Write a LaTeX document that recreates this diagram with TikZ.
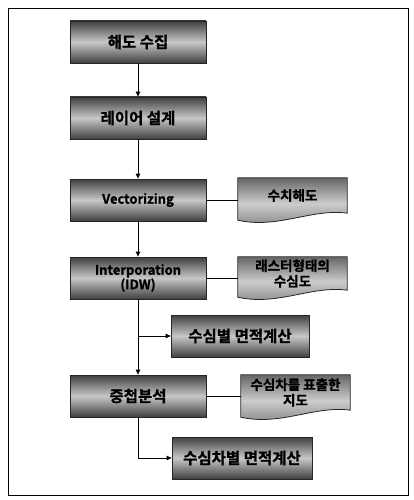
\documentclass[tikz,border=0pt]{standalone}
\usepackage{fontspec}
\setmainfont{Noto Sans CJK KR}[BoldFont={Noto Sans CJK KR Bold}]
\newfontfamily\kr{Noto Sans CJK KR Bold}[FakeBold=1.2]
\usetikzlibrary{arrows.meta,calc,shadings}
\begin{document}
\begin{tikzpicture}[x=1pt,y=-1pt,
  procbox/.style={draw=black!85, line width=0.8pt, rectangle,
    top color=black!75, bottom color=black!75, middle color=black!22,
    minimum width=136pt, minimum height=42pt, inner sep=2pt,
    font=\kr\fontsize{15.5}{17}\selectfont, text=black, align=center},
  doctext/.style={rectangle, minimum width=109pt, inner sep=1pt,
    font=\kr\fontsize{13.5}{15.5}\selectfont, text=black, align=center},
  docfill/.style={draw=black!85, line width=0.8pt,
    top color=black!60, bottom color=black!50, middle color=black!20},
  link/.style={draw=black, line width=0.8pt},
  arr/.style={link, -{Triangle[length=5pt,width=4.5pt]}}]
\useasboundingbox (0,0) rectangle (414,500);
\draw[line width=0.8pt] (8,8) rectangle (408,495);

\node[procbox] (b1) at (138,42) {해도 수집};
\node[procbox] (b2) at (138,118) {레이어 설계};
\node[procbox, font=\kr\fontsize{13}{14.5}\selectfont] (b3) at (138,200) {Vectorizing};
\node[procbox, font=\kr\fontsize{13}{14.5}\selectfont] (b4) at (138,278) {Interporation\\(IDW)};
\node[procbox, minimum width=138pt] (b5) at (240,336) {수심별 면적계산};
\node[procbox] (b6) at (138,396) {중첩분석};
\node[procbox, minimum width=140pt] (b7) at (242,458) {수심차별 면적계산};

% document shapes
\node[doctext, minimum height=35pt] (d1) at (292.5,195.5) {};
\node[doctext, minimum height=33pt] (d2) at (292.5,273.5) {};
\node[doctext, minimum height=35pt] (d3) at (295.5,392.5) {};
\foreach \d in {d1,d2,d3}{
  \path[docfill] (\d.north west) -- (\d.north east) -- (\d.south east)
    .. controls ($(\d.south east)+(-35,-5)$) and ($(\d.south west)+(40,16)$) .. ($(\d.south west)+(0,7)$) -- cycle;
}
\node[doctext] at (d1) {수치해도};
\node[doctext] at (d2) {래스터형태의\\수심도};
\node[doctext] at (d3) {수심차를 표출한\\지도};

\draw[arr] (b1) -- (b2);
\draw[arr] (b2) -- (b3);
\draw[arr] (b3) -- (b4);
\draw[arr] (b4) -- (b6);
\coordinate (j1) at (b4.south |- b5.west);
\draw[arr] (j1) -- (b5.west);
\draw[arr] (b6.south) |- (b7.west);
\draw[link] (b3.east) -- (d1.west |- b3.east);
\draw[link] (b4.east) -- (d2.west |- b4.east);
\draw[link] (b6.east) -- (d3.west |- b6.east);
\end{tikzpicture}
\end{document}
